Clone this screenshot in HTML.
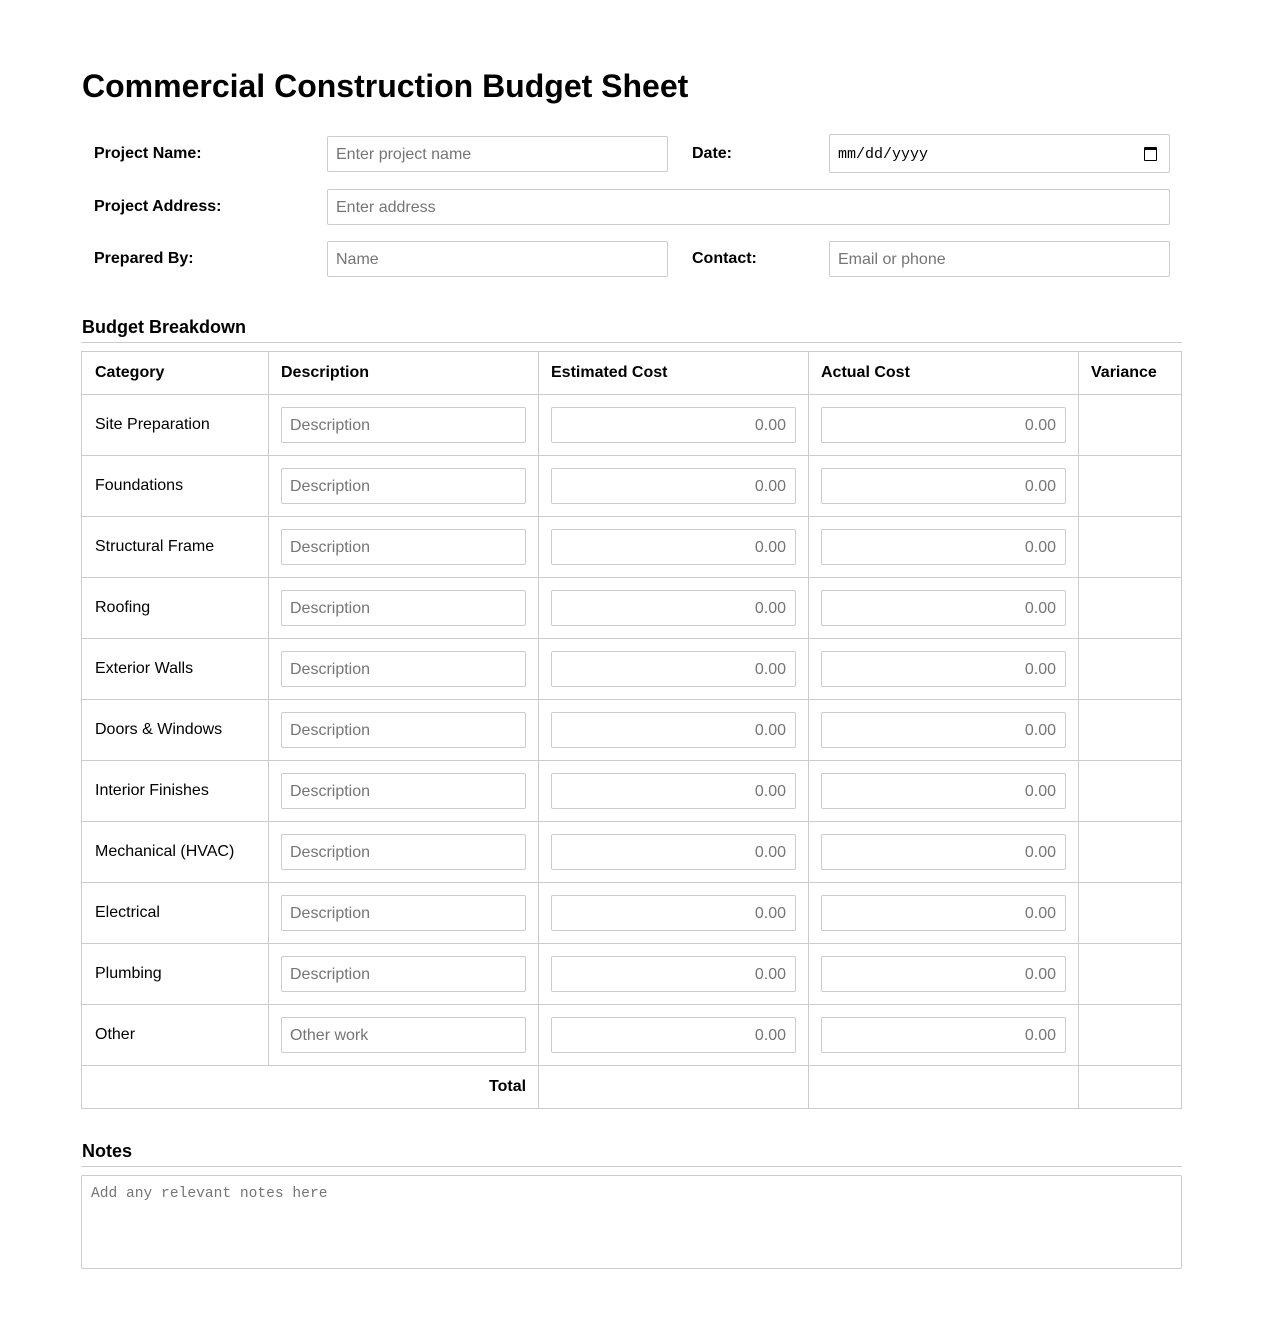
<!DOCTYPE html>
<html><head><meta charset="utf-8"><style>
body{margin:0;background:#fff;font-family:"Liberation Sans",Arial,sans-serif;color:#000;}
.a{position:absolute}
.in{position:absolute;box-sizing:border-box;border:1px solid #ccc;border-radius:2px;color:#757575;font-size:16px;padding-left:8px;display:flex;align-items:center;padding-top:1px}
.r{justify-content:flex-end;padding-right:9px;padding-left:0}
.lb{position:absolute;font-weight:bold;font-size:16px;line-height:20px}
.t{position:absolute;font-size:16px;line-height:20px}
.hl{position:absolute;height:1px;background:#ccc}
.vl{position:absolute;width:1px;background:#ccc}
</style></head><body>
<div class="a" style="left:82px;top:66px;font-size:32px;font-weight:bold;line-height:40px">Commercial Construction Budget Sheet</div>
<div class="lb" style="left:94px;top:144px">Project Name:</div>
<div class="in" style="left:327px;top:136px;width:341px;height:36px">Enter project name</div>
<div class="lb" style="left:692px;top:144px">Date:</div>
<div class="in" style="left:829px;top:134px;width:341px;height:39px;color:#000;font-family:'Liberation Mono',monospace;font-size:15px">mm/dd/yyyy<span style="position:absolute;right:12px;top:12px;width:11px;height:10px;border:1.5px solid #000;border-top-width:3px;border-radius:1px"></span></div>
<div class="lb" style="left:94px;top:197px">Project Address:</div>
<div class="in" style="left:327px;top:189px;width:843px;height:36px">Enter address</div>
<div class="lb" style="left:94px;top:249px">Prepared By:</div>
<div class="in" style="left:327px;top:241px;width:341px;height:36px">Name</div>
<div class="lb" style="left:692px;top:249px">Contact:</div>
<div class="in" style="left:829px;top:241px;width:341px;height:36px">Email or phone</div>

<div class="a" style="left:82px;top:316px;font-size:18px;font-weight:bold;line-height:22px">Budget Breakdown</div>
<div class="hl" style="left:81px;top:342px;width:1101px"></div>

<div class="a" style="left:81px;top:351px;width:1099px;height:756px;border:1px solid #ccc"></div>
<div class="vl" style="left:268px;top:351px;height:715px"></div>
<div class="vl" style="left:538px;top:351px;height:757px"></div>
<div class="vl" style="left:808px;top:351px;height:757px"></div>
<div class="vl" style="left:1078px;top:351px;height:757px"></div>
<div class="lb" style="left:95px;top:363px">Category</div>
<div class="lb" style="left:281px;top:363px">Description</div>
<div class="lb" style="left:551px;top:363px">Estimated Cost</div>
<div class="lb" style="left:821px;top:363px">Actual Cost</div>
<div class="lb" style="left:1091px;top:363px">Variance</div>
<div id="rows"></div>
<div class="hl" style="left:81px;top:1065px;width:1101px"></div>
<div class="lb" style="left:489px;top:1077px">Total</div>

<div class="a" style="left:82px;top:1140px;font-size:18px;font-weight:bold;line-height:22px">Notes</div>
<div class="hl" style="left:81px;top:1166px;width:1101px"></div>
<div class="a" style="left:81px;top:1175px;width:1099px;height:92px;border:1px solid #ccc;border-radius:2px;font-family:'Liberation Mono',monospace;font-size:14.6px;color:#757575;box-sizing:content-box"><span style="position:absolute;left:9px;top:10px">Add any relevant notes here</span></div>
<script>
var c=["Site Preparation","Foundations","Structural Frame","Roofing","Exterior Walls","Doors &amp; Windows","Interior Finishes","Mechanical (HVAC)","Electrical","Plumbing","Other"];
var h="";
for(var i=0;i<c.length;i++){var y=394+i*61;
h+='<div class="hl" style="left:81px;top:'+y+'px;width:1101px"></div>';
h+='<div class="t" style="left:95px;top:'+(y+21)+'px">'+c[i]+'</div>';
h+='<div class="in" style="left:281px;top:'+(y+13)+'px;width:245px;height:36px">'+(i==10?'Other work':'Description')+'</div>';
h+='<div class="in r" style="left:551px;top:'+(y+13)+'px;width:245px;height:36px">0.00</div>';
h+='<div class="in r" style="left:821px;top:'+(y+13)+'px;width:245px;height:36px">0.00</div>';}
document.getElementById("rows").innerHTML=h;
</script>
</body></html>
